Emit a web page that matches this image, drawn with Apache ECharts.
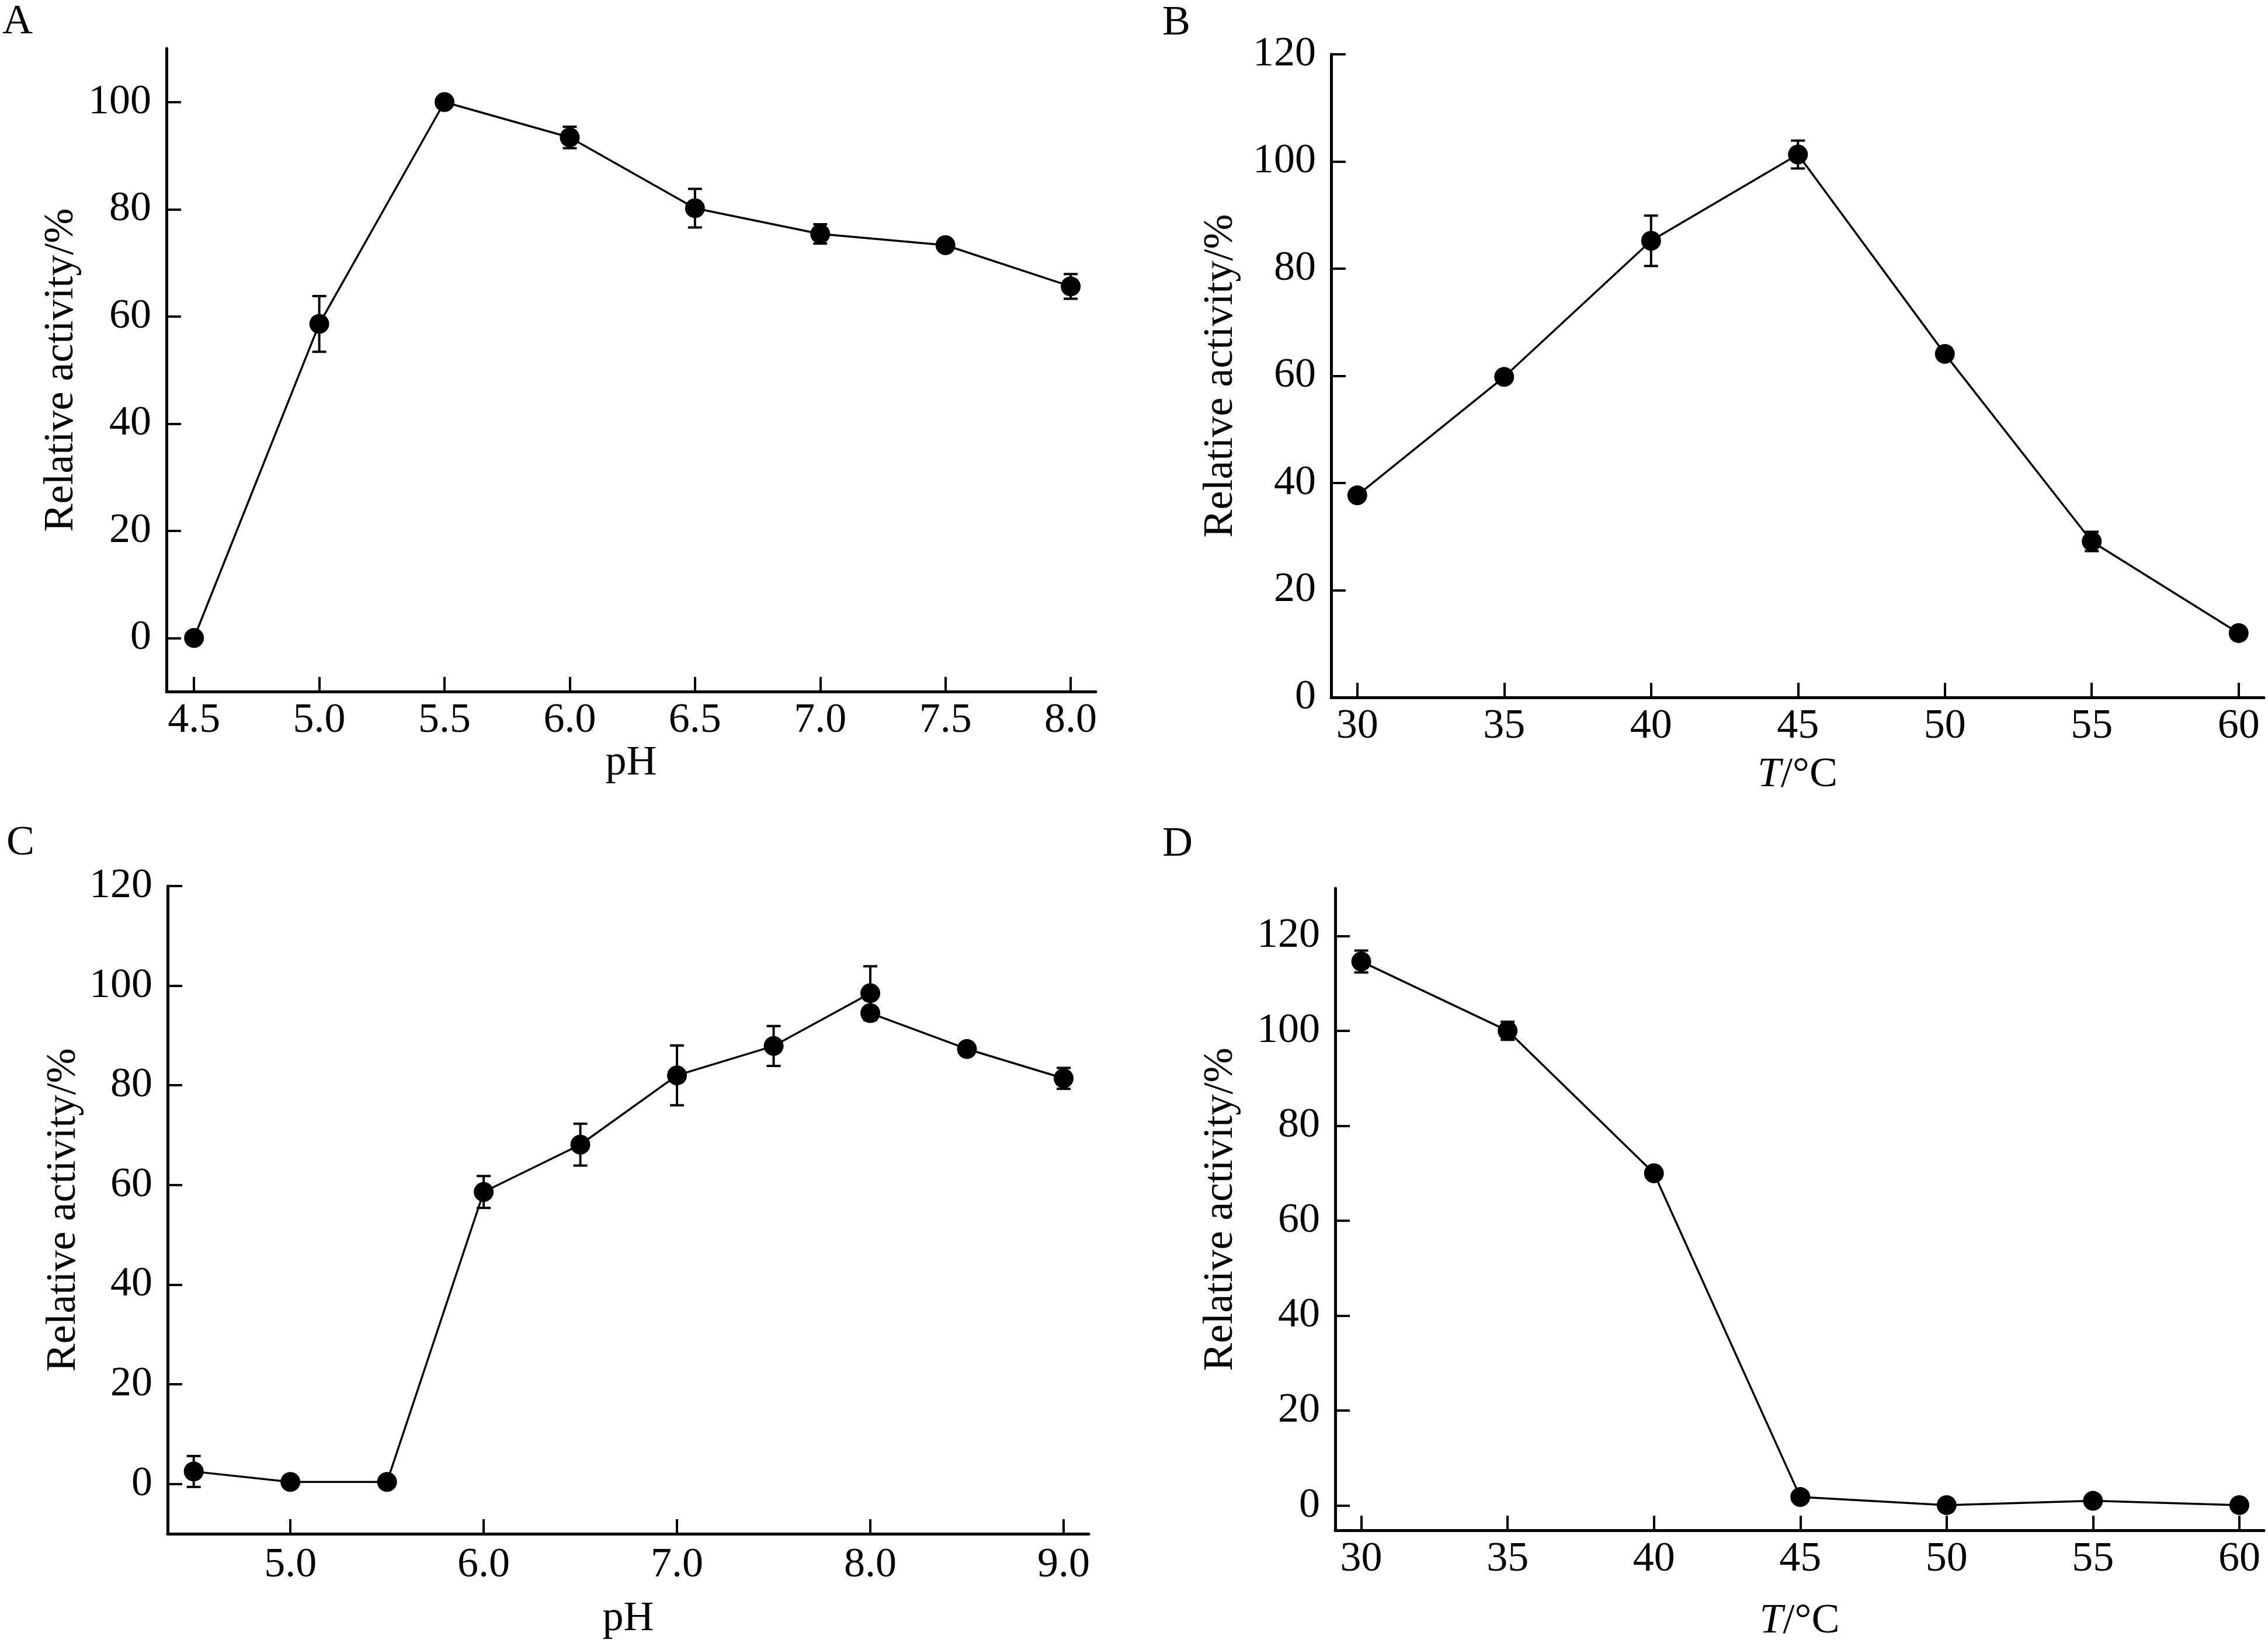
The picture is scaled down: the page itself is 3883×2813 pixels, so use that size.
<!DOCTYPE html>
<html>
<head>
<meta charset="utf-8">
<script src="https://cdn.jsdelivr.net/npm/echarts@6/dist/echarts.min.js"></script>
<style>
html,body{margin:0;padding:0;background:#fff;}
#chart{width:3883px;height:2813px;}
</style>
</head>
<body>
<div id="chart"></div>
<script>
// ---------------- data ----------------
// A: pH, assay 1
var phA   = [4.5, 5.0, 5.5, 6.0, 6.5, 7.0, 7.5, 8.0];
var actA  = [0, 58.6, 100, 93.4, 80.2, 75.4, 73.3, 65.6];
var errA  = [0, 5.2, 0, 2.0, 3.6, 1.8, 1.0, 2.3];
// B: temperature, assay 1
var tempB = [30, 35, 40, 45, 50, 55, 60];
var actB  = [37.7, 59.8, 85.2, 101.3, 64.1, 29.1, 12.0];
var errB  = [0, 0, 4.7, 2.6, 0, 1.8, 0];
// C: pH, assay 2 (two readings at pH 8.0)
var phC   = [4.5, 5.0, 5.5, 6.0, 6.5, 7.0, 7.5, 8.0, 8.0, 8.5, 9.0];
var actC  = [2.5, 0.4, 0.4, 58.6, 68.1, 82.0, 87.9, 98.5, 94.5, 87.3, 81.4];
var errC  = [3.1, 0, 0, 3.2, 4.2, 6.0, 4.0, 5.4, 0, 0.8, 2.1];
// D: temperature, assay 2
var tempD = [30, 35, 40, 45, 50, 55, 60];
var actD  = [114.6, 100.0, 70.0, 1.8, 0.1, 1.0, 0.1];
var errD  = [2.3, 1.9, 0, 0, 0, 0, 0];

// tick values
var xTicksA = [4.5, 5.0, 5.5, 6.0, 6.5, 7.0, 7.5, 8.0];
var yTicksA = [0, 20, 40, 60, 80, 100];
var xTicksB = [30, 35, 40, 45, 50, 55, 60];
var yTicksB = [0, 20, 40, 60, 80, 100, 120];
var xTicksC = [5.0, 6.0, 7.0, 8.0, 9.0];
var yTicksC = [0, 20, 40, 60, 80, 100, 120];
var xTicksD = [30, 35, 40, 45, 50, 55, 60];
var yTicksD = [0, 20, 40, 60, 80, 100, 120];

var panelLetters = ['A', 'B', 'C', 'D'];
var yName = 'Relative activity/%';

// ---------------- helpers ----------------
var FONT = '"Liberation Serif", "Times New Roman", serif';
var FS = 72;

function zip3(xs, ys, es) {
	var out = [];
	for (var i = 0; i < xs.length; i++) out.push([xs[i], ys[i], es[i]]);
	return out;
}
function zip2(xs, ys) {
	var out = [];
	for (var i = 0; i < xs.length; i++) out.push([xs[i], ys[i]]);
	return out;
}

//误差线
function errorBarItem(params, api) {
	var x = api.value(0), y = api.value(1), e = api.value(2);
	if (!e) return null;
	var hi = api.coord([x, y + e]);
	var lo = api.coord([x, y - e]);
	var w = 12;
	var st = {stroke: '#000', lineWidth: 4};
	return {
		type: 'group',
		children: [
			{type: 'line', shape: {x1: hi[0], y1: hi[1], x2: lo[0], y2: lo[1]}, style: st},
			{type: 'line', shape: {x1: hi[0] - w, y1: hi[1], x2: hi[0] + w, y2: hi[1]}, style: st},
			{type: 'line', shape: {x1: lo[0] - w, y1: lo[1], x2: lo[0] + w, y2: lo[1]}, style: st}
		]
	};
}

function xAxisOf(idx, min, max, ticks, digits, name, gap, margin) {
	return {
		gridIndex: idx, type: 'value', min: min, max: max,
		name: name, nameLocation: 'middle', nameGap: gap,
		nameTextStyle: {
			fontFamily: FONT, fontSize: FS, color: '#000',
			rich: {
				it: {fontFamily: FONT, fontSize: FS, fontStyle: 'italic', color: '#000'},
				n: {fontFamily: FONT, fontSize: FS, color: '#000'}
			}
		},
		axisLine: {onZero: false, lineStyle: {color: '#000', width: 5}},
		axisTick: {inside: true, length: 25, customValues: ticks, lineStyle: {color: '#000', width: 4}},
		axisLabel: {
			customValues: ticks, margin: margin, fontFamily: FONT, fontSize: FS, color: '#000',
			formatter: function (v) { return Number(v).toFixed(digits); }
		},
		splitLine: {show: false}
	};
}

function yAxisOf(idx, min, max, ticks, gap) {
	return {
		gridIndex: idx, type: 'value', min: min, max: max,
		name: yName, nameLocation: 'middle', nameGap: gap,
		nameTextStyle: {fontFamily: FONT, fontSize: FS, color: '#000'},
		axisLine: {onZero: false, lineStyle: {color: '#000', width: 5}},
		axisTick: {inside: true, length: 25, customValues: ticks, lineStyle: {color: '#000', width: 4}},
		axisLabel: {customValues: ticks, margin: 26, fontFamily: FONT, fontSize: FS, color: '#000'},
		splitLine: {show: false}
	};
}

function lineSeries(idx, xs, ys) {
	return {
		type: 'line', xAxisIndex: idx, yAxisIndex: idx,
		data: zip2(xs, ys),
		symbol: 'circle', symbolSize: 34,
		itemStyle: {color: '#000'},
		lineStyle: {color: '#000', width: 3.5},
		z: 3
	};
}

function errSeries(idx, xs, ys, es) {
	return {
		type: 'custom', xAxisIndex: idx, yAxisIndex: idx,
		data: zip3(xs, ys, es),
		encode: {x: 0, y: 1},
		renderItem: errorBarItem,
		z: 2
	};
}

function letter(t, x, y) {
	return {
		type: 'text', x: x, y: y,
		style: {text: t, fontFamily: FONT, fontSize: FS, fill: '#000', align: 'center', verticalAlign: 'middle'}
	};
}

// ---------------- chart ----------------
var myChart = echarts.init(document.getElementById('chart'), null, {renderer: 'canvas'});
var options = {
	backgroundColor: '#fff',
	animation: false,
	grid: [
		{left: 285, top: 83, width: 1591, height: 1101},
		{left: 2279, top: 93, width: 1597, height: 1101},
		{left: 287, top: 1517, width: 1577, height: 1109},
		{left: 2286, top: 1521, width: 1590, height: 1101}
	],
	xAxis: [
		xAxisOf(0, 4.39, 8.10, xTicksA, 1, 'pH', 70, 14),
		xAxisOf(1, 29.11, 60.86, xTicksB, 0, '{it|T}{n|/°C}', 97, 14),
		xAxisOf(2, 4.365, 9.13, xTicksC, 1, 'pH', 110, 18),
		xAxisOf(3, 29.11, 60.84, xTicksD, 0, '{it|T}{n|/°C}', 120, 14)
	],
	yAxis: [
		yAxisOf(0, -10, 110, yTicksA, 144),
		yAxisOf(1, 0, 120, yTicksB, 153),
		yAxisOf(2, -10, 120, yTicksC, 142),
		yAxisOf(3, -5.2, 130, yTicksD, 160)
	],
	series: [
		errSeries(0, phA, actA, errA), lineSeries(0, phA, actA),
		errSeries(1, tempB, actB, errB), lineSeries(1, tempB, actB),
		errSeries(2, phC, actC, errC), lineSeries(2, phC, actC),
		errSeries(3, tempD, actD, errD), lineSeries(3, tempD, actD)
	],
	graphic: [
		letter(panelLetters[0], 30, 38),
		letter(panelLetters[1], 2014, 40),
		letter(panelLetters[2], 35, 1444),
		letter(panelLetters[3], 2016, 1446)
	]
};
myChart.setOption(options);
</script>
</body>
</html>
